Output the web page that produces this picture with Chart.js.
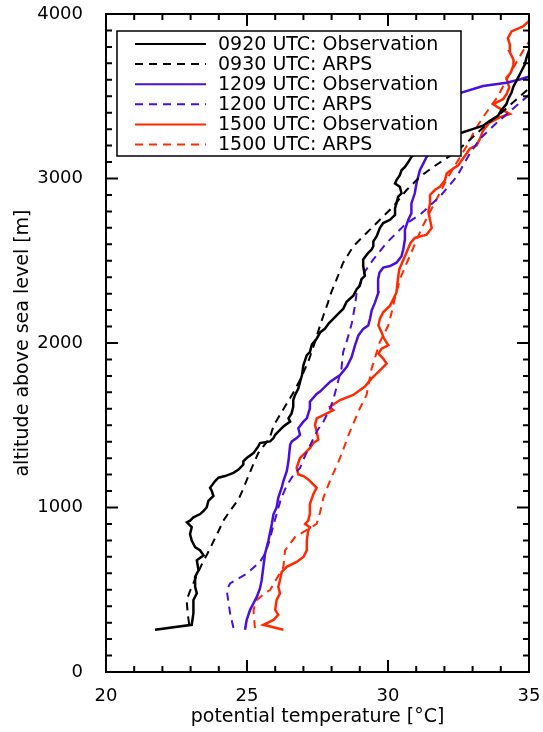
<!DOCTYPE html>
<html>
<head>
<meta charset="utf-8">
<title>Potential temperature profiles</title>
<script src="https://cdn.jsdelivr.net/npm/chart.js@4.4.1/dist/chart.umd.min.js"></script>
<style>
  html, body { margin: 0; padding: 0; background: #fff; }
  #wrap { width: 543px; height: 732px; position: relative; }
</style>
</head>
<body>
<div id="wrap"><canvas id="profiles"></canvas></div>
<script>
/* =========================
   DATA (potential temperature in °C, altitude in m)
========================= */

const xTicks = [20, 25, 30, 35];
const yTicks = [0, 1000, 2000, 3000, 4000];

const obs0920T = [21.74, 23.04, 23.10, 23.10, 23.22, 23.16, 23.16, 23.28, 23.22, 23.46, 23.34, 23.16, 23.04, 22.98, 23.04, 22.87, 22.98, 23.10, 23.34, 23.46, 23.57, 23.63, 23.81, 23.75, 23.69, 23.87, 23.99, 24.22, 24.52, 24.70, 24.87, 24.87, 24.99, 25.23, 25.40, 25.46, 25.82, 25.94, 26.00, 26.17, 26.29, 26.53, 26.47, 26.58, 26.64, 26.64, 26.70, 26.82, 26.88, 26.95, 27.00, 27.12, 27.23, 27.30, 27.47, 27.60, 27.76, 27.90, 28.06, 28.25, 28.41, 28.53, 28.77, 28.89, 29.00, 29.06, 29.18, 29.12, 29.12, 29.30, 29.42, 29.48, 29.48, 29.60, 29.71, 29.83, 30.07, 30.25, 30.25, 30.30, 30.36, 30.48, 30.42, 30.25, 30.30, 30.42, 30.48, 30.60, 30.72, 30.83, 31.00, 31.50, 32.20, 32.66, 33.00, 33.37, 33.60, 33.90, 34.00, 34.20, 34.26, 34.38, 34.45, 34.61, 34.73, 34.85, 34.91, 34.97, 35.05];
const obs0920Z = [257, 287, 357, 438, 478, 518, 578, 618, 679, 709, 739, 759, 799, 839, 880, 910, 920, 940, 960, 980, 1000, 1040, 1070, 1100, 1120, 1161, 1181, 1191, 1211, 1231, 1261, 1281, 1301, 1331, 1371, 1392, 1402, 1422, 1442, 1472, 1492, 1522, 1542, 1572, 1612, 1653, 1683, 1723, 1763, 1805, 1865, 1926, 1945, 1990, 2026, 2066, 2086, 2120, 2146, 2180, 2207, 2250, 2287, 2327, 2347, 2388, 2408, 2468, 2508, 2548, 2568, 2588, 2618, 2649, 2699, 2729, 2749, 2779, 2819, 2849, 2890, 2910, 2950, 2970, 2990, 3020, 3050, 3070, 3100, 3131, 3160, 3200, 3260, 3281, 3300, 3321, 3350, 3381, 3410, 3452, 3482, 3522, 3560, 3612, 3652, 3693, 3733, 3763, 3800];

const arps0930T = [22.95, 22.90, 22.86, 23.00, 23.20, 23.41, 23.60, 23.80, 24.00, 24.16, 24.40, 24.70, 24.81, 25.05, 25.17, 25.40, 25.58, 25.80, 25.95, 26.30, 26.65, 26.95, 27.20, 27.40, 27.59, 27.71, 27.88, 27.94, 28.18, 28.41, 28.77, 29.24, 29.71, 30.18, 30.66, 31.13, 31.60, 31.96, 32.40, 33.00, 33.50, 34.08, 34.50, 34.95, 35.10];
const arps0930Z = [290, 350, 438, 500, 580, 659, 720, 790, 860, 920, 980, 1050, 1091, 1191, 1241, 1331, 1372, 1420, 1500, 1600, 1700, 1800, 1900, 2000, 2106, 2167, 2250, 2287, 2388, 2488, 2588, 2669, 2749, 2829, 2930, 3010, 3070, 3110, 3160, 3250, 3330, 3408, 3472, 3540, 3560];

const obs1209T = [24.93, 24.99, 25.11, 25.23, 25.35, 25.46, 25.52, 25.58, 25.64, 25.76, 25.88, 25.94, 26.05, 26.11, 26.23, 26.29, 26.41, 26.47, 26.53, 26.59, 26.76, 26.88, 26.82, 27.00, 27.12, 27.23, 27.23, 27.47, 27.59, 27.95, 28.30, 28.54, 28.71, 28.83, 28.95, 29.12, 29.30, 29.36, 29.42, 29.54, 29.66, 29.65, 29.70, 29.83, 30.07, 30.30, 30.48, 30.54, 30.60, 30.60, 30.72, 30.83, 30.83, 30.95, 31.01, 31.13, 31.25, 31.37, 31.60, 31.90, 32.20, 32.45, 32.61, 33.37, 34.20, 34.67, 35.05];
const obs1209Z = [257, 317, 378, 418, 458, 508, 558, 639, 719, 799, 900, 960, 1000, 1060, 1120, 1161, 1221, 1281, 1382, 1402, 1422, 1442, 1482, 1522, 1542, 1602, 1643, 1690, 1705, 1765, 1805, 1855, 1915, 1986, 2046, 2086, 2106, 2146, 2197, 2247, 2307, 2388, 2428, 2458, 2468, 2488, 2528, 2568, 2629, 2689, 2749, 2789, 2849, 2910, 2970, 3050, 3090, 3131, 3200, 3300, 3400, 3500, 3522, 3562, 3582, 3602, 3622];

const arps1200T = [24.52, 24.40, 24.28, 24.40, 24.99, 25.46, 25.64, 25.80, 25.95, 26.05, 26.20, 26.40, 26.65, 26.88, 27.10, 27.30, 27.50, 27.71, 27.94, 28.06, 28.18, 28.35, 28.41, 28.53, 28.71, 28.83, 28.89, 29.00, 29.20, 29.48, 29.95, 30.60, 31.19, 31.84, 32.43, 32.90, 33.26, 33.80, 34.40, 34.95, 35.10];
const arps1200Z = [267, 357, 498, 538, 598, 669, 719, 800, 900, 960, 1050, 1130, 1200, 1240, 1330, 1400, 1470, 1522, 1600, 1654, 1735, 1845, 1945, 2006, 2116, 2227, 2307, 2360, 2440, 2508, 2609, 2719, 2789, 2890, 3010, 3151, 3241, 3330, 3420, 3500, 3530];

const obs1500T = [26.29, 25.58, 25.94, 26.11, 26.00, 26.05, 26.17, 26.11, 26.17, 26.23, 26.41, 26.76, 27.00, 27.12, 27.12, 27.17, 27.23, 27.06, 27.17, 27.23, 27.23, 27.35, 27.47, 27.17, 27.00, 26.82, 26.76, 26.88, 27.00, 27.23, 27.35, 27.53, 27.47, 27.41, 27.47, 27.71, 28.06, 27.94, 28.30, 28.77, 29.18, 29.42, 29.66, 29.95, 29.83, 29.66, 29.77, 30.01, 29.85, 29.77, 29.66, 29.71, 29.83, 30.07, 30.19, 30.30, 30.35, 30.40, 30.50, 30.60, 30.70, 30.80, 30.95, 31.37, 31.55, 31.49, 31.43, 31.49, 31.49, 31.66, 31.84, 32.02, 32.08, 32.31, 32.49, 32.61, 32.78, 32.90, 33.14, 33.26, 33.37, 33.60, 33.96, 34.32, 33.90, 33.73, 34.08, 34.20, 34.30, 34.20, 34.35, 34.46, 34.45, 34.30, 34.32, 34.25, 34.38, 34.79, 35.05];
const obs1500Z = [257, 287, 317, 347, 378, 438, 478, 518, 558, 608, 639, 669, 699, 739, 799, 859, 880, 900, 920, 960, 1020, 1080, 1120, 1171, 1191, 1201, 1241, 1301, 1321, 1361, 1392, 1412, 1462, 1502, 1542, 1562, 1592, 1612, 1653, 1684, 1735, 1785, 1825, 1875, 1905, 1936, 1966, 1986, 2030, 2066, 2106, 2146, 2187, 2227, 2267, 2307, 2388, 2448, 2488, 2528, 2568, 2608, 2639, 2659, 2699, 2749, 2799, 2849, 2900, 2930, 2950, 2990, 3030, 3060, 3080, 3110, 3150, 3181, 3201, 3241, 3291, 3340, 3372, 3392, 3432, 3452, 3482, 3512, 3552, 3612, 3643, 3693, 3723, 3773, 3813, 3853, 3894, 3925, 3965];

const arps1500T = [25.28, 25.23, 25.35, 25.70, 25.82, 26.29, 26.35, 26.70, 27.47, 27.59, 27.71, 27.94, 28.30, 28.65, 29.00, 29.24, 29.42, 29.71, 30.01, 30.13, 30.25, 30.45, 30.70, 30.95, 31.20, 31.50, 31.80, 32.10, 32.45, 32.80, 33.10, 33.40, 33.65, 33.90, 34.20, 34.50, 34.80, 35.10];
const arps1500Z = [267, 378, 438, 488, 498, 639, 739, 820, 900, 970, 1060, 1161, 1301, 1462, 1602, 1684, 1845, 2006, 2106, 2187, 2277, 2400, 2500, 2600, 2700, 2800, 2900, 3000, 3100, 3200, 3300, 3380, 3440, 3500, 3600, 3690, 3780, 3860];

const labels = [
  "0920 UTC: Observation",
  "0930 UTC: ARPS",
  "1209 UTC: Observation",
  "1200 UTC: ARPS",
  "1500 UTC: Observation",
  "1500 UTC: ARPS"
];

/* =========================
   STYLE
========================= */

const BLACK = "#000000";
const BLUE = "#4a0fd8";
const RED = "#ff2a00";
const DASH = [8, 6];
const FONT = "'DejaVu Sans', 'Noto Sans', sans-serif";

function toPoints(t, z) {
  return t.map((v, i) => ({ x: v, y: z[i] }));
}

function makeSet(i, t, z, color, dashed) {
  return {
    label: labels[i],
    data: toPoints(t, z),
    showLine: true,
    borderColor: color,
    backgroundColor: color,
    borderWidth: dashed ? 2 : 2.5,
    borderDash: dashed ? DASH : [],
    pointRadius: 0,
    tension: 0,
    fill: false
  };
}

const datasets = [
  makeSet(0, obs0920T, obs0920Z, BLACK, false),
  makeSet(1, arps0930T, arps0930Z, BLACK, true),
  makeSet(2, obs1209T, obs1209Z, BLUE, false),
  makeSet(3, arps1200T, arps1200Z, BLUE, true),
  makeSet(4, obs1500T, obs1500Z, RED, false),
  makeSet(5, arps1500T, arps1500Z, RED, true)
];

/* =========================
   FRAME, INWARD TICKS, LEGEND BOX
========================= */

const idlFrame = {
  id: "idlFrame",
  afterDraw(chart) {
    const ctx = chart.ctx;
    const area = chart.chartArea;
    const xs = chart.scales.x;
    const ys = chart.scales.y;

    ctx.save();

    // legend box drawn over the lines
    const lx = area.left + 11, ly = area.top + 17, lw = 344, lh = 125;
    ctx.fillStyle = "#fff";
    ctx.fillRect(lx, ly, lw, lh);
    ctx.strokeStyle = BLACK;
    ctx.lineWidth = 1.5;
    ctx.strokeRect(lx, ly, lw, lh);

    ctx.font = "19px " + FONT;
    ctx.textBaseline = "middle";
    ctx.textAlign = "left";
    chart.data.datasets.forEach((ds, i) => {
      const ry = ly + 13 + i * 20.1;
      ctx.beginPath();
      ctx.setLineDash(ds.borderDash);
      ctx.strokeStyle = ds.borderColor;
      ctx.lineWidth = 2;
      ctx.moveTo(lx + 18, ry);
      ctx.lineTo(lx + 89, ry);
      ctx.stroke();
      ctx.setLineDash([]);
      ctx.fillStyle = BLACK;
      ctx.fillText(ds.label, lx + 101, ry + 1);
    });

    // ticks on all four sides, pointing inwards
    ctx.strokeStyle = BLACK;
    ctx.lineWidth = 2;
    ctx.beginPath();
    for (let v = xs.min; v <= xs.max; v += 1) {
      const px = xs.getPixelForValue(v);
      const len = v % 5 === 0 ? 12 : 6;
      ctx.moveTo(px, area.bottom);
      ctx.lineTo(px, area.bottom - len);
      ctx.moveTo(px, area.top);
      ctx.lineTo(px, area.top + len);
    }
    for (let v = ys.min; v <= ys.max; v += 100) {
      const py = ys.getPixelForValue(v);
      const len = v % 1000 === 0 ? 12 : 6;
      ctx.moveTo(area.left, py);
      ctx.lineTo(area.left + len, py);
      ctx.moveTo(area.right, py);
      ctx.lineTo(area.right - len, py);
    }
    ctx.stroke();

    ctx.strokeRect(area.left, area.top, area.right - area.left, area.bottom - area.top);
    ctx.restore();
  }
};

/* =========================
   CHART
========================= */

new Chart(document.getElementById("profiles"), {
  type: "scatter",
  data: { datasets },
  options: {
    responsive: true,
    maintainAspectRatio: false,
    animation: false,
    layout: { padding: { left: 0, right: 14, top: 14, bottom: 0 } },
    plugins: {
      legend: { display: false },
      tooltip: { enabled: false }
    },
    scales: {
      x: {
        type: "linear",
        min: xTicks[0],
        max: xTicks[xTicks.length - 1],
        afterBuildTicks: s => { s.ticks = xTicks.map(v => ({ value: v })); },
        afterFit: s => { s.height = 60; s.paddingLeft = 0; s.paddingRight = 0; },
        grid: { display: false },
        border: { display: false },
        ticks: { color: BLACK, padding: 6, font: { family: FONT, size: 18 }, callback: v => String(v) },
        title: {
          display: true,
          text: "potential temperature [°C]",
          color: BLACK,
          font: { family: FONT, size: 19 },
          padding: { top: 0, bottom: 4 }
        }
      },
      y: {
        type: "linear",
        min: yTicks[0],
        max: yTicks[yTicks.length - 1],
        afterBuildTicks: s => { s.ticks = yTicks.map(v => ({ value: v })); },
        afterFit: s => { s.width = 106; s.paddingTop = 0; s.paddingBottom = 0; },
        grid: { display: false },
        border: { display: false },
        ticks: { color: BLACK, padding: 15, font: { family: FONT, size: 18 }, callback: v => String(v) },
        title: {
          display: true,
          text: "altitude above sea level [m]",
          color: BLACK,
          font: { family: FONT, size: 19 },
          padding: { top: 12, bottom: 0 }
        }
      }
    }
  },
  plugins: [idlFrame]
});
</script>
</body>
</html>
